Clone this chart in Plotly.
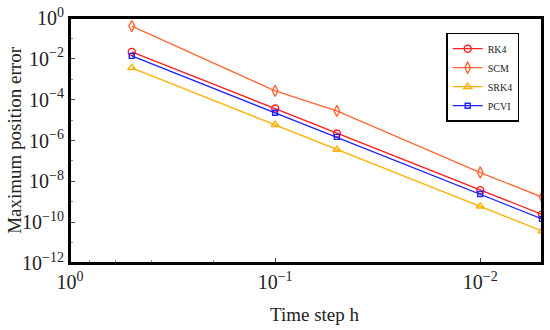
import plotly.graph_objects as go

h = [0.5, 0.1, 0.05, 0.01, 0.005]
series_names = ["RK4", "SCM", "SRK4", "PCVI"]
rk4 = [2.2e-2, 3.7e-5, 2.2e-6, 3.7e-9, 2.4e-10]
scm = [0.4, 2.7e-4, 2.8e-5, 2.7e-8, 1.7e-9]
srk4 = [3.6e-3, 5.9e-6, 3.6e-7, 6.0e-10, 3.7e-11]
pcvi = [1.4e-2, 2.3e-5, 1.5e-6, 2.4e-9, 1.45e-10]

x_tickvals = [1, 0.1, 0.01]
x_ticktext = ["10<sup>0</sup>", "10<sup>\u22121</sup>", "10<sup>\u22122</sup>"]
y_tickvals = [1, 1e-2, 1e-4, 1e-6, 1e-8, 1e-10, 1e-12]
y_ticktext = ["10<sup>0</sup>", "10<sup>\u22122</sup>", "10<sup>\u22124</sup>", "10<sup>\u22126</sup>",
              "10<sup>\u22128</sup>", "10<sup>\u221210</sup>", "10<sup>\u221212</sup>"]

values = [rk4, scm, srk4, pcvi]
colors = ["#FF2020", "#FF6633", "#FFB000", "#2020FF"]
symbols = ["circle-open", "diamond-tall-open", "triangle-up-open", "square-open"]
sizes = [7, 8, 7, 5]

fig = go.Figure()
for name, vals, c, s, sz in zip(series_names, values, colors, symbols, sizes):
    fig.add_trace(go.Scatter(
        x=h, y=vals, name=name, mode="lines+markers",
        line=dict(color=c, width=1.3),
        marker=dict(symbol=s, size=sz, color=c, line=dict(color=c, width=1.4)),
    ))

font = "Liberation Serif, Times New Roman, serif"
fig.update_layout(
    width=550, height=330,
    margin=dict(l=70, r=8, t=18, b=67),
    paper_bgcolor="white", plot_bgcolor="white",
    font=dict(family=font, color="#222"),
    showlegend=True,
    legend=dict(
        x=0.797, y=0.94, xanchor="left", yanchor="top",
        bgcolor="white", bordercolor="black", borderwidth=1.5,
        font=dict(family=font, size=10, color="#222"),
        tracegroupgap=0, itemwidth=30,
    ),
    shapes=[dict(type="rect", xref="paper", yref="paper", x0=0, x1=1, y0=0, y1=1,
                 line=dict(color="black", width=2), layer="above")],
    annotations=[
        dict(text="Time step h", xref="paper", yref="paper", x=0.52, y=-0.16, yanchor="top",
             showarrow=False, font=dict(family=font, size=19, color="#222")),
        dict(text="Maximum position error", xref="paper", yref="paper", x=-0.118, y=0.5,
             textangle=-90, xanchor="center", yanchor="middle",
             showarrow=False, font=dict(family=font, size=19, color="#222")),
    ],
)
fig.update_xaxes(
    type="log", range=[0, -2.301], autorange=False, automargin=False,
    tickvals=x_tickvals, ticktext=x_ticktext,
    ticks="inside", ticklen=5, tickcolor="#444",
    minor=dict(ticks="inside", ticklen=3, tickcolor="#888", showgrid=False),
    showline=True, linecolor="black", linewidth=2, mirror=True,
    showgrid=False, zeroline=False,
    tickfont=dict(family=font, size=20, color="#222"),
)
fig.update_yaxes(
    type="log", range=[-12, 0], autorange=False, automargin=False,
    tickvals=y_tickvals, ticktext=y_ticktext,
    ticks="inside", ticklen=5, tickcolor="#444",
    minor=dict(ticks="inside", ticklen=3, tickcolor="#888", tickvals=[1e-1, 1e-3, 1e-5, 1e-7, 1e-9, 1e-11], showgrid=False),
    showline=True, linecolor="black", linewidth=2, mirror=True,
    showgrid=False, zeroline=False,
    tickfont=dict(family=font, size=20, color="#222"),
)
fig.write_html("out.html", config={"displayModeBar": False},
               post_script="document.body.style.margin='0';document.body.style.padding='0';")
